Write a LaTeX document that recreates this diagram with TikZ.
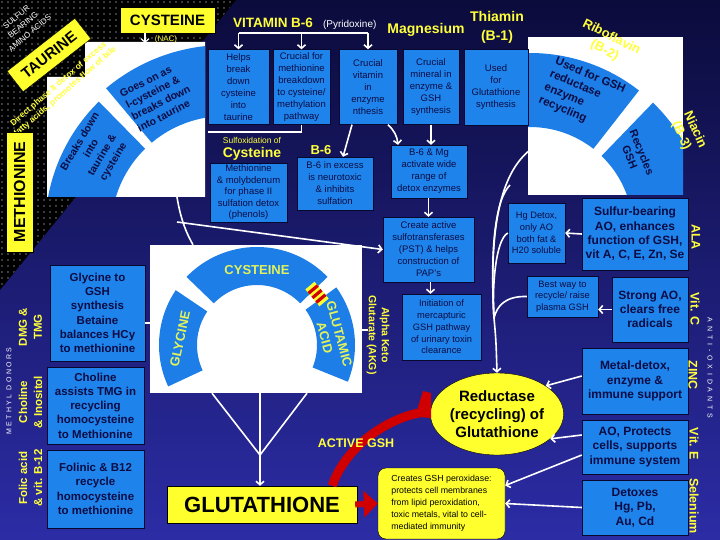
\documentclass[tikz,border=0pt]{standalone}
\usepackage{fontspec}
\setmainfont{Liberation Sans}
\newfontfamily\spacedfont[LetterSpace=34]{Liberation Sans}
\newfontfamily\widefont[LetterSpace=55]{Liberation Sans}
\usetikzlibrary{arrows.meta,calc,positioning,shapes.geometric}
\usepackage{xcolor}
\definecolor{bgtop}{HTML}{0B0B3C}
\definecolor{bgbot}{HTML}{2C2CA6}
\definecolor{boxblue}{HTML}{1E84EC}
\definecolor{secblue}{HTML}{1C7EE6}
\definecolor{navytxt}{HTML}{0C0C44}
\definecolor{edgenavy}{HTML}{08082E}
\definecolor{labyel}{HTML}{FFFF3C}
\definecolor{ringyel}{HTML}{E2F25C}
\definecolor{boxyel}{HTML}{FFFF2E}
\definecolor{redarc}{HTML}{D00000}
\newcommand{\fsz}[2]{\fontsize{#1}{#2}\selectfont}
\newcommand{\ringsect}[5]{% centre, from, to, inner r, outer r
  \fill[secsty,shift={(#1)}] (#2:#4) arc[start angle=#2,end angle=#3,radius=#4]
    -- (#3:#5) arc[start angle=#3,end angle=#2,radius=#5] -- cycle;}
\tikzset{
    panelsty/.style={fill=white},
    secsty/.style={fill=secblue},
    sectxtsty/.style={text=navytxt,align=center,font=\bfseries\fsz{10.5}{13}},
    boxsty/.style={draw=edgenavy,fill=boxblue,rectangle,inner sep=0pt,align=center,text=navytxt},
    smboxsty/.style={boxsty,font=\fsz{9.5}{12}},
    bgboxsty/.style={boxsty,font=\bfseries\fsz{11.5}{14.3}},
    yboxsty/.style={draw=black,fill=boxyel,rectangle,inner sep=0pt,text=black,align=center},
    ytxtsty/.style={text=labyel,align=center},
    wtxtsty/.style={text=white,align=center},
    ringtxtsty/.style={text=ringyel,align=center,font=\bfseries\fsz{13}{15}},
    wlinesty/.style={draw=white,line width=1.6pt},
    warrsty/.style={wlinesty,->},
    redsty/.style={draw=redarc,line width=9pt},
}

\begin{document}
\begin{tikzpicture}[x=1pt,y=1pt,>={Straight Barb[length=3.5pt,width=8pt]}]
% background
\shade[top color=bgtop,bottom color=bgbot] (0,0) rectangle (720,-540);
\useasboundingbox (0,0) rectangle (720,-540);

% dotted corner
\begin{scope}
  \clip (0,0) -- (236,0) -- (0,-290) -- cycle;
  \fill[black] (0,0) rectangle (236,-290);
  \foreach \i in {0,...,39}
    \foreach \j in {0,...,48}
      \fill[white] (\i*6+2,-\j*6-2) circle[radius=0.55];
\end{scope}

% left ring
\fill[panelsty] (85,-42) -- (205,-42) -- (205,-197) -- (47,-197) -- (47,-77) -- (85,-77) -- cycle;
\begin{scope}
  \clip (85,-42) -- (205,-42) -- (205,-197) -- (47,-197) -- (47,-77) -- (85,-77) -- cycle;
  \ringsect{225,-230}{85}{130}{114}{185}
  \ringsect{225,-230}{134.5}{215}{114}{180}
\end{scope}
\node[sectxtsty,rotate=27,align=left] (goeson) at (158,-97) {Goes on as\\l-cysteine \&\\breaks down\\into taurine};
\node[sectxtsty,rotate=59] (brkdown) at (97,-152) {Breaks down\\into\\taurine \&\\cysteine};

% right ring
\fill[panelsty] (528,-37) rectangle (683,-195);
\begin{scope}
  \clip (528,-37) rectangle (683,-195);
  \ringsect{530,-230}{52}{100}{103}{177}
  \ringsect{530,-230}{-20}{46}{103}{177}
\end{scope}
\node[sectxtsty,rotate=-23,align=left,font=\bfseries\fsz{11.5}{14}] (usedgsh) at (582,-95) {Used for GSH\\reductase\\enzyme\\recycling};
\node[sectxtsty,rotate=-68,font=\bfseries\fsz{11}{13}] (recycgsh) at (636,-155) {Recycles\\GSH};

% centre ring
\node[panelsty,minimum width=212pt,minimum height=148pt,inner sep=0pt] (gshpanel) at (256,-319) {};
\ringsect{257,-345}{44}{136}{60}{98}
\ringsect{257,-345}{146}{205}{60}{98}
\ringsect{257,-345}{-22}{36}{60}{98}
\begin{scope}[shift={(317,-294)},rotate=-50]
  \fill[boxyel] (-11,-6) rectangle (11,6);
  \foreach \s in {-6,0,6}
    \fill[redarc] (\s-1.6,-6) rectangle (\s+1.6,6);
\end{scope}
\node[ringtxtsty] (cysring) at (257,-270) {CYSTEINE};
\node[ringtxtsty,rotate=78] (glyring) at (180,-339) {GLYCINE};
\node[ringtxtsty,rotate=-75] (gluring) at (332,-336) {GLUTAMIC\\ACID};

% corner labels
\node[wtxtsty,rotate=40,font=\fsz{8}{10.5}] (sulfaa) at (23,-25) {SULFUR\\BEARING\\AMINO ACIDS};
\node[yboxsty,rotate=38,minimum width=86pt,minimum height=26pt,font=\bfseries\fsz{15}{16}] (taurbox) at (49,-55) {TAURINE};
\node[ytxtsty,rotate=41,font=\bfseries\fsz{8.5}{10}] (bileflow) at (62,-88) {Direct phase II detox of excess\\fatty acids, promotes flow of bile};
\node[yboxsty,rotate=90,minimum width=120pt,minimum height=27pt,font=\bfseries\fsz{16}{18}] (methbox) at (19.5,-192) {METHIONINE};
\node[yboxsty,minimum width=95pt,minimum height=26pt,font=\bfseries\fsz{15}{16}] (cysbox) at (167.5,-20) {CYSTEINE};
\node[ytxtsty,font=\fsz{8}{9}] (nac) at (166,-39) {(NAC)};
\coordinate (nacarr) at (145,-43);
\draw[warrsty,line width=1.2pt] (cysbox.south -| nacarr) -- (nacarr);

% top headings
\node[ytxtsty,font=\bfseries\fsz{13.5}{15}] (vitb6) at (273,-23) {VITAMIN B-6};
\node[wtxtsty,anchor=base west,font=\fsz{10}{12}] (pyrid) at ([xshift=3pt]vitb6.base east) {(Pyridoxine)};
\node[ytxtsty,font=\bfseries\fsz{14}{16}] (magnes) at (426,-30) {Magnesium};
\node[ytxtsty,font=\bfseries\fsz{14}{19}] (thiamin) at (497,-27) {Thiamin\\(B-1)};
\node[ytxtsty,rotate=-27,font=\bfseries\fsz{13}{15}] (ribofl) at (608,-44) {Riboflavin\\(B-2)};
\node[ytxtsty,rotate=-66,font=\bfseries\fsz{13}{15}] (niacin) at (688,-133) {Niacin\\(B-3)};

% top boxes
\node[smboxsty,minimum width=61pt,minimum height=75pt] (helps) at (238.5,-87) {Helps\\break\\down\\cysteine\\into\\taurine};
\node[smboxsty,minimum width=57pt,minimum height=75pt] (crucmeth) at (301.5,-87) {Crucial for\\methionine\\breakdown\\to cysteine/\\methylation\\pathway};
\node[smboxsty,minimum width=58pt,minimum height=75pt] (crucvit) at (368,-87) {Crucial\\vitamin\\in\\enzyme\\nthesis};
\node[smboxsty,minimum width=56pt,minimum height=75pt] (crucmin) at (431,-87) {Crucial\\mineral in\\enzyme \&\\GSH\\synthesis};
\node[smboxsty,minimum width=64pt,minimum height=76pt] (usedfor) at (496,-87) {Used\\for\\Glutathione\\synthesis};

\coordinate (b6bar) at (0,-33);
\draw[wlinesty] (helps.north |- b6bar) -- (crucvit.north |- b6bar);
\foreach \b in {helps,crucmeth,crucvit}
  \draw[warrsty] (\b.north |- b6bar) -- (\b.north);

% middle boxes
\node[ytxtsty,font=\fsz{8.5}{10}] (sulfox) at (252,-140) {Sulfoxidation of};
\node[ytxtsty,font=\bfseries\fsz{14}{16}] (cysttl) at (252,-154) {Cysteine};
\node[ytxtsty,font=\bfseries\fsz{13}{15}] (b6ttl) at (321,-150) {B-6};
\node[smboxsty,minimum width=77pt,minimum height=59pt,font=\fsz{9.5}{11.5}] (molyb) at (248.5,-192.5) {Methionine\\\& molybdenum\\for phase II\\sulfation detox\\(phenols)};
\node[smboxsty,minimum width=76pt,minimum height=53pt] (b6ex) at (335,-183.5) {B-6 in excess\\is neurotoxic\\\& inhibits\\sulfation};
\node[smboxsty,minimum width=76pt,minimum height=53pt] (b6mg) at (429,-171.5) {B-6 \& Mg\\activate wide\\range of\\detox enzymes};
\node[smboxsty,minimum width=91pt,minimum height=65pt] (pstbox) at (428.5,-249.5) {Create active\\sulfotransferases\\(PST) \& helps\\construction of\\PAP’s};
\node[smboxsty,minimum width=79pt,minimum height=66pt,font=\fsz{9.3}{11.8}] (mercap) at (441.5,-327) {Initiation of\\mercapturic\\GSH pathway\\of urinary toxin\\clearance};
\node[ytxtsty,rotate=-90,font=\bfseries\fsz{10.5}{13}] (akg) at (378,-335) {Alpha Keto\\Glutarate (AKG)};

\coordinate (molyend) at (208,-132);
\draw[wlinesty] (crucmeth.south) |- (molyend);
\draw[warrsty] ([xshift=-16pt]crucvit.south) -- ([xshift=8pt]b6ex.north);
\draw[warrsty] ([xshift=20pt]crucvit.south) to[bend left=20] ([xshift=-31pt]b6mg.north);
\draw[warrsty] (crucmin.south) -- (crucmin.south |- b6mg.north);
\draw[warrsty] (b6mg.south -| pstbox.north) -- (pstbox.north);
\draw[warrsty] ([xshift=2pt]pstbox.south) -- ([xshift=-11pt]mercap.north);
\coordinate (sulfstart) at (177,-222);
\draw[warrsty] (sulfstart) -- (pstbox.west);
\coordinate (ringdrop) at (177,-197);
\draw[wlinesty] (ringdrop) .. controls (181,-222) and (188,-236) .. (gshpanel.north west -| 193,0);

% right column boxes
\node[smboxsty,minimum width=57pt,minimum height=60pt,font=\fsz{9.3}{11.7}] (hgdet) at (536.5,-233) {Hg Detox,\\only AO\\both fat \&\\H20 soluble};
\node[smboxsty,minimum width=71pt,minimum height=41pt,font=\fsz{9.3}{11.7}] (bestway) at (562.5,-296.5) {Best way to\\recycle/ raise\\plasma GSH};
\node[bgboxsty,minimum width=106pt,minimum height=72pt,font=\bfseries\fsz{12}{14.3}] (sulfbear) at (635,-234) {Sulfur-bearing\\AO, enhances\\function of GSH,\\vit A, C, E, Zn, Se};
\node[bgboxsty,minimum width=76pt,minimum height=65pt,font=\bfseries\fsz{12}{14.3}] (strongao) at (650,-309.5) {Strong AO,\\clears free\\radicals};
\node[bgboxsty,minimum width=106pt,minimum height=66pt,font=\bfseries\fsz{12}{14.3}] (metaldx) at (635,-381) {Metal-detox,\\enzyme \&\\immune support};
\node[bgboxsty,minimum width=106pt,minimum height=54pt,font=\bfseries\fsz{12}{14.3}] (aoprot) at (635,-447) {AO, Protects\\cells, supports\\immune system};
\node[bgboxsty,minimum width=106pt,minimum height=55pt,font=\bfseries\fsz{12}{14.3}] (detoxes) at (635,-507.5) {Detoxes\\Hg, Pb,\\Au, Cd};

\node[ytxtsty,rotate=-90,font=\bfseries\fsz{12.5}{14}] (alalab) at (696,-237) {ALA};
\node[ytxtsty,rotate=-90,font=\bfseries\fsz{12.5}{14}] (vitclab) at (695,-309) {Vit. C};
\node[ytxtsty,rotate=-90,font=\bfseries\fsz{12.5}{14}] (zinclab) at (693,-375) {ZINC};
\node[ytxtsty,rotate=-90,font=\bfseries\fsz{12.5}{14}] (vitelab) at (694,-444) {Vit. E};
\node[ytxtsty,rotate=-90,font=\bfseries\fsz{12.5}{14}] (selenlab) at (694,-506) {Selenium};
\node[wtxtsty,rotate=-90,font=\widefont\fsz{7}{8}] (antiox) at (710,-368) {ANTI-OXIDANTS};

% reductase and peroxidase
\node[draw=black,fill=boxyel,ellipse,minimum width=131pt,minimum height=82pt,inner sep=0pt,align=center,font=\bfseries\fsz{15}{18}] (reductase) at (497,-414) {Reductase\\(recycling) of\\Glutathione};
\node[draw=black,fill=boxyel,rounded corners=8pt,minimum width=127pt,minimum height=71pt,inner sep=0pt,align=left,font=\fsz{8.8}{12}] (perox) at (441.5,-503.5) {Creates GSH peroxidase:\\protects cell membranes\\from lipid peroxidation,\\toxic metals, vital to cell-\\mediated immunity};

\coordinate (trunktop) at (530,-150);
\coordinate (trunkmid) at (510,-185);
\coordinate (trunkjoin) at (494,-318);
\draw[wlinesty] (trunktop) .. controls (505,-170) and (488,-215) .. (trunkjoin);
\draw[wlinesty] (trunkmid) .. controls (495,-200) and (490,-250) .. (trunkjoin);
\draw[wlinesty] (hgdet.west) .. controls (495,-240) and (492,-290) .. (trunkjoin);
\draw[wlinesty] (bestway.west) .. controls (505,-296) and (497,-306) .. (trunkjoin);
\draw[warrsty] (trunkjoin) .. controls (496,-340) .. (reductase.north);

\draw[warrsty] (sulfbear.west) -- (hgdet.east);
\draw[warrsty] (strongao.west) -- (strongao.west -| bestway.east);
\draw[warrsty] ([yshift=5pt]metaldx.west) -- (reductase.30);
\draw[warrsty] ([yshift=12pt]aoprot.west) -- (reductase.-25);
\draw[warrsty] ([yshift=-8pt]aoprot.west) -- ([yshift=18pt]perox.east);
\draw[warrsty] (detoxes.west) -- (perox.east);

% left column
\node[bgboxsty,minimum width=95pt,minimum height=96pt] (glycbox) at (97.5,-313) {Glycine to\\GSH\\synthesis\\Betaine\\balances HCy\\to methionine};
\node[bgboxsty,minimum width=97pt,minimum height=77pt] (cholbox) at (95.5,-405.5) {Choline\\assists TMG in\\recycling\\homocysteine\\to Methionine};
\node[bgboxsty,minimum width=97pt,minimum height=78pt] (folbox) at (95.5,-489) {Folinic \& B12\\recycle\\homocysteine\\to methionine};
\node[ytxtsty,rotate=90,font=\bfseries\fsz{11.5}{15}] (dmglab) at (30.5,-327) {DMG \&\\TMG};
\node[ytxtsty,rotate=90,font=\bfseries\fsz{11.5}{15}] (chollab) at (30.5,-402) {Choline\\\& Inositol};
\node[ytxtsty,rotate=90,font=\bfseries\fsz{11.5}{15}] (follab) at (30.5,-478) {Folic acid\\\& vit. B-12};
\node[wtxtsty,rotate=90,font=\spacedfont\fsz{7}{8}] (methdon) at (9,-391) {METHYL DONORS};
\draw[wlinesty] ([yshift=-10pt]glycbox.east) -- ([yshift=-10pt]glycbox.east -| gshpanel.west);
\draw[wlinesty] ([yshift=-11pt]gshpanel.east) -- ++(6,0);

% glutathione
\node[yboxsty,minimum width=190pt,minimum height=37pt,font=\bfseries\fsz{22}{24}] (glutbox) at (262,-504.5) {GLUTATHIONE};
\coordinate (gjoin) at (260,-455);
\draw[wlinesty] ([xshift=-44pt]gshpanel.south) -- (gjoin);
\draw[wlinesty] (gshpanel.south -| gjoin) -- (gjoin);
\draw[wlinesty] ([xshift=51pt]gshpanel.south) -- (gjoin);
\draw[warrsty] (gjoin) -- (glutbox.north -| gjoin);

% active GSH arc
\coordinate (redend) at (424,-412);
\draw[redsty] ([xshift=-25pt]glutbox.north east) .. controls (344,-450) and (384,-418) .. (redend);
\fill[redarc] (418,-407) -- (423,-391) -- (431,-393) -- (431,-418) -- (418,-417) -- cycle;
\draw[redsty,line width=6pt,-{Triangle[length=14pt,width=26pt]}] ([xshift=-2pt]glutbox.east) -- (perox.west);
\node[ytxtsty,font=\bfseries\fsz{12.5}{14}] (activegsh) at (356,-443) {ACTIVE GSH};
\end{tikzpicture}
\end{document}
